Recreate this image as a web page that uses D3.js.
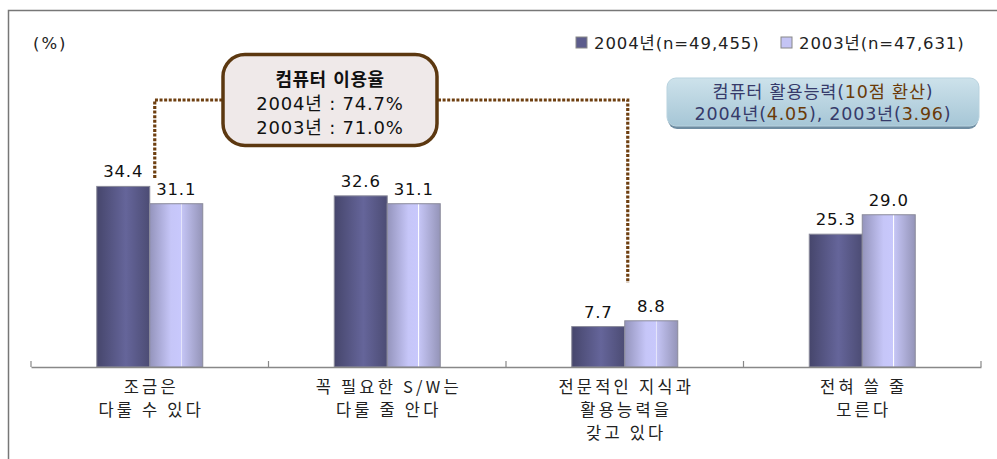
<!DOCTYPE html>
<html><head><meta charset="utf-8">
<script src="https://cdn.jsdelivr.net/npm/d3@7"></script>
<style>
html,body{margin:0;padding:0;background:#fff;}
svg{display:block;font-family:"Noto Sans CJK KR","Noto Sans",sans-serif;}
.num{font-family:"DejaVu Sans","Noto Sans CJK KR",sans-serif;}
</style></head>
<body>
<script>
const categories = [
  ["조금은", "다룰 수 있다"],
  ["꼭 필요한 S/W는", "다룰 줄 안다"],
  ["전문적인 지식과", "활용능력을", "갖고 있다"],
  ["전혀 쓸 줄", "모른다"]
];
const seriesNames = ["2004년(n=49,455)", "2003년(n=47,631)"];
const values2004 = [34.4, 32.6, 7.7, 25.3];
const values2003 = [31.1, 31.1, 8.8, 29.0];
const unitLabel = "(%)";
const calloutLines = ["컴퓨터 이용율", "2004년 : 74.7%", "2003년 : 71.0%"];
const abilityLine1 = [["컴퓨터 활용능력(", "n"], ["10점 환산", "b"], [")", "n"]];
const abilityLine2 = [["2004년(", "n"], ["4.05", "b"], ["), 2003년(", "n"], ["3.96", "b"], [")", "n"]];

const W = 997, H = 459;
const svg = d3.select("body").append("svg").attr("width", W).attr("height", H);
const defs = svg.append("defs");

function hGrad(id, stops) {
  const g = defs.append("linearGradient").attr("id", id).attr("x1", "0").attr("x2", "1").attr("y1", "0").attr("y2", "0");
  stops.forEach(s => g.append("stop").attr("offset", s[0]).attr("stop-color", s[1]));
}
hGrad("g2004", [[0, "#46466c"], [0.55, "#65659a"], [1, "#4c4c74"]]);
hGrad("g2003", [[0, "#9494bc"], [0.4, "#c6c6f8"], [0.58, "#c8c8fc"], [0.59, "#ffffff"], [0.61, "#c4c4f4"], [1, "#9494b8"]]);
const bg = defs.append("linearGradient").attr("id", "gblue").attr("x1", 0).attr("x2", 0).attr("y1", 0).attr("y2", 1);
bg.append("stop").attr("offset", 0).attr("stop-color", "#cde2eb");
bg.append("stop").attr("offset", 1).attr("stop-color", "#a6c6d6");

// frame
svg.append("path").attr("d", "M8.5,459 V10.5 H997").attr("fill", "none").attr("stroke", "#777").attr("stroke-width", 1.5);

const x = d3.scaleBand().domain(d3.range(categories.length)).range([31, 981]).padding(0);
const y = d3.scaleLinear().domain([0, 40]).range([367, 157]);
const barW = 53;
const x1 = d3.scaleBand().domain([0, 1]).range([-barW, barW]);
const cx = i => x(i) + x.bandwidth() / 2;

// bars
const data = [];
categories.forEach((c, i) => {
  data.push({i, s: 0, v: values2004[i]});
  data.push({i, s: 1, v: values2003[i]});
});
svg.append("g").selectAll("rect").data(data).join("rect")
  .attr("x", d => cx(d.i) + x1(d.s))
  .attr("y", d => y(d.v))
  .attr("width", x1.bandwidth())
  .attr("height", d => y(0) - y(d.v))
  .attr("fill", d => d.s === 0 ? "url(#g2004)" : "url(#g2003)")
  .attr("stroke", "#8a8a9a").attr("stroke-width", 1);

svg.append("g").selectAll("text").data(data).join("text")
  .attr("class", "num")
  .attr("x", d => cx(d.i) + x1(d.s) + x1.bandwidth() / 2)
  .attr("y", d => y(d.v) - 9)
  .attr("text-anchor", "middle")
  .attr("font-size", 16.5).attr("letter-spacing", 0.8).attr("fill", "#111")
  .text(d => d.v.toFixed(1));

// axis
const axis = svg.append("g").attr("transform", `translate(0,${y(0)})`)
  .call(d3.axisBottom(x).tickValues([]).tickSizeOuter(0).tickFormat(""));
axis.select(".domain").attr("stroke", "#888").attr("stroke-width", 1.5);
const bounds = d3.range(categories.length + 1).map(i => i < categories.length ? x(i) : x(i - 1) + x.bandwidth());
svg.append("g").selectAll("line").data(bounds).join("line")
  .attr("x1", d => d).attr("x2", d => d).attr("y1", y(0) - 6).attr("y2", y(0))
  .attr("stroke", "#888").attr("stroke-width", 1.2);

// category labels
const cl = svg.append("g").selectAll("text").data(categories).join("text")
  .attr("text-anchor", "middle").attr("font-size", 16.5).attr("fill", "#222")
  .attr("letter-spacing", 3.2);
cl.each(function(lines, i) {
  d3.select(this).selectAll("tspan").data(lines).join("tspan")
    .attr("x", cx(i) + 1.5).attr("y", (d, k) => 393 + k * 23).text(d => d);
});

// unit label
svg.append("text").attr("class", "num").attr("x", 33).attr("y", 49).attr("font-size", 16.5)
  .attr("letter-spacing", 2).attr("fill", "#222").text(unitLabel);

// legend
const legendX = [576, 781];
const lg = svg.append("g");
seriesNames.forEach((n, k) => {
  lg.append("rect").attr("x", legendX[k]).attr("y", 37).attr("width", 11).attr("height", 11)
    .attr("fill", k === 0 ? "#5c5c8c" : "#c4c4f4").attr("stroke", "#888").attr("stroke-width", 1);
  lg.append("text").attr("class", "num").attr("x", legendX[k] + 18).attr("y", 48.5)
    .attr("font-size", 16.5).attr("letter-spacing", 0.9).attr("fill", "#222").text(n);
});

// dotted connectors (annotation anchored in data space)
const dotColor = "#6e3f10";
const connY = 100;
svg.append("path")
  .attr("d", `M${cx(0) + 5},${y(36)} V${connY} H222`)
  .attr("fill", "none").attr("stroke", dotColor).attr("stroke-width", 3.2).attr("stroke-dasharray", "3,1.6");
svg.append("path")
  .attr("d", `M438,${connY} H${cx(2) + 3} V${y(16)}`)
  .attr("fill", "none").attr("stroke", dotColor).attr("stroke-width", 3.2).attr("stroke-dasharray", "3,1.6");

// callout box
svg.append("rect").attr("x", 223).attr("y", 54.5).attr("width", 214).attr("height", 91).attr("rx", 22)
  .attr("fill", "#efe9e9").attr("stroke", "#5c3810").attr("stroke-width", 3.5);
svg.append("g").selectAll("text").data(calloutLines).join("text")
  .attr("class", "num")
  .attr("x", 330).attr("y", (d, k) => 86 + k * 24)
  .attr("text-anchor", "middle").attr("font-size", 18).attr("letter-spacing", (d, k) => k === 0 ? 0.5 : 0.8)
  .attr("font-weight", (d, k) => k === 0 ? 700 : 400).attr("fill", "#111")
  .text(d => d);

// ability box
svg.append("rect").attr("x", 668).attr("y", 80).attr("width", 310).attr("height", 49).attr("rx", 9).attr("fill", "#6f8da2");
svg.append("rect").attr("x", 667).attr("y", 78).attr("width", 312).attr("height", 48).attr("rx", 9)
  .attr("fill", "url(#gblue)").attr("stroke", "#b9d3df").attr("stroke-width", 1);
function colored(line, yy) {
  const t = svg.append("text").attr("class", "num").attr("x", 823).attr("y", yy).attr("text-anchor", "middle")
    .attr("font-size", 17.5).attr("letter-spacing", 0.8);
  t.selectAll("tspan").data(line).join("tspan")
    .attr("fill", d => d[1] === "b" ? "#6a3a08" : "#363a6a").text(d => d[0]);
}
colored(abilityLine1, 98);
colored(abilityLine2, 120);
</script>
</body></html>
